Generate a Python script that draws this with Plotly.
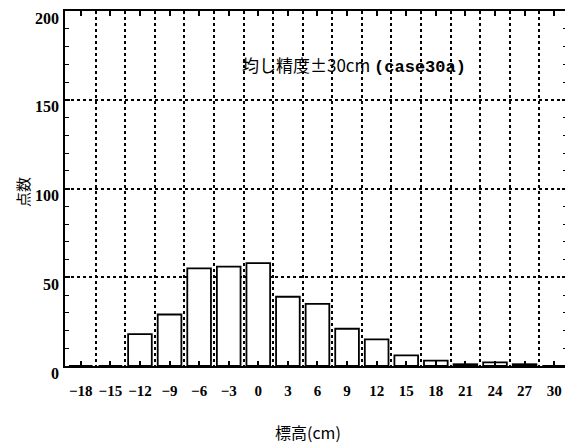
import plotly.graph_objects as go

categories = [-18, -15, -12, -9, -6, -3, 0, 3, 6, 9, 12, 15, 18, 21, 24, 27, 30]
counts = [0, 0, 18, 29, 55, 56, 58, 39, 35, 21, 15, 6, 3, 1, 2, 1, 0]
y_ticks = [0, 50, 100, 150, 200]
title_text = "均し精度±30cm <span style=\"font-family:'Liberation Mono';font-weight:bold\">(case30a)</span>"
x_title = "標高(cm)"
y_title = "点数"

serif = "Liberation Serif"
OFF = 8  # default page body margin
W, H = 573 - OFF, 443 - OFF
L, R, T, B = 65 - OFF, 6, 11 - OFF, 77


def px_to_paper_x(px):
    return (px - OFF - L) / (W - L - R)


def px_to_paper_y(py):
    return (H - B - (py - OFF)) / (H - B - T)


fig = go.Figure()
fig.add_trace(go.Bar(
    x=categories, y=counts, width=2.4,
    marker=dict(color="white", line=dict(color="black", width=1.8)),
))

fig.update_layout(
    width=W, height=H,
    margin=dict(l=L, r=R, t=T, b=B, autoexpand=False),
    paper_bgcolor="white", plot_bgcolor="white",
    showlegend=False,
    font=dict(family=serif, color="black", size=15),
)

fig.update_xaxes(
    automargin=False,
    range=[-19.6, 31.3],
    tickmode="linear", tick0=categories[0], dtick=3,
    tickfont=dict(family=serif, size=15, weight="bold"),
    ticks="inside", ticklen=5, tickwidth=1.5, tickcolor="black",
    showline=True, linecolor="black", linewidth=2, mirror="ticks",
    showgrid=False, zeroline=False,
    ticklabelstandoff=10,
    minor=dict(tick0=-16.5, dtick=3, showgrid=True, ticks="",
               gridcolor="black", griddash="dot", gridwidth=1.5),
)
fig.update_yaxes(
    automargin=False,
    range=[0, 200],
    tickmode="linear", tick0=y_ticks[0], dtick=y_ticks[1] - y_ticks[0],
    showticklabels=False,
    ticks="inside", ticklen=5, tickwidth=1.5, tickcolor="black",
    showline=True, linecolor="black", linewidth=2, mirror="ticks",
    showgrid=True, gridcolor="black", griddash="dot", gridwidth=1.5,
    zeroline=False,
    minor=dict(dtick=10, ticks="inside", ticklen=4,
               tickcolor="black", tickwidth=1.2, showgrid=False),
)

for v in y_ticks:
    fig.add_annotation(
        x=0, xref="paper", xanchor="right", xshift=-4,
        y=v, yref="y", yanchor="middle", yshift=-7,
        text=str(v), showarrow=False,
        font=dict(family=serif, size=16, weight="bold", color="black"),
    )

fig.add_annotation(
    x=9.7, y=170, xref="x", yref="y", text=title_text,
    showarrow=False, xanchor="center", yanchor="middle",
    font=dict(family="Noto Sans CJK JP", size=17, color="black"),
)
fig.add_annotation(
    x=px_to_paper_x(308), y=px_to_paper_y(432), xref="paper", yref="paper",
    text=x_title, showarrow=False, xanchor="center", yanchor="middle",
    font=dict(family="Noto Sans CJK JP", size=16, color="black"),
)
fig.add_annotation(
    x=px_to_paper_x(22), y=px_to_paper_y(192), xref="paper", yref="paper",
    text=y_title, showarrow=False, xanchor="center", yanchor="middle",
    textangle=-90,
    font=dict(family="Noto Sans CJK JP", size=15, color="black"),
)

fig.write_html("out.html")
